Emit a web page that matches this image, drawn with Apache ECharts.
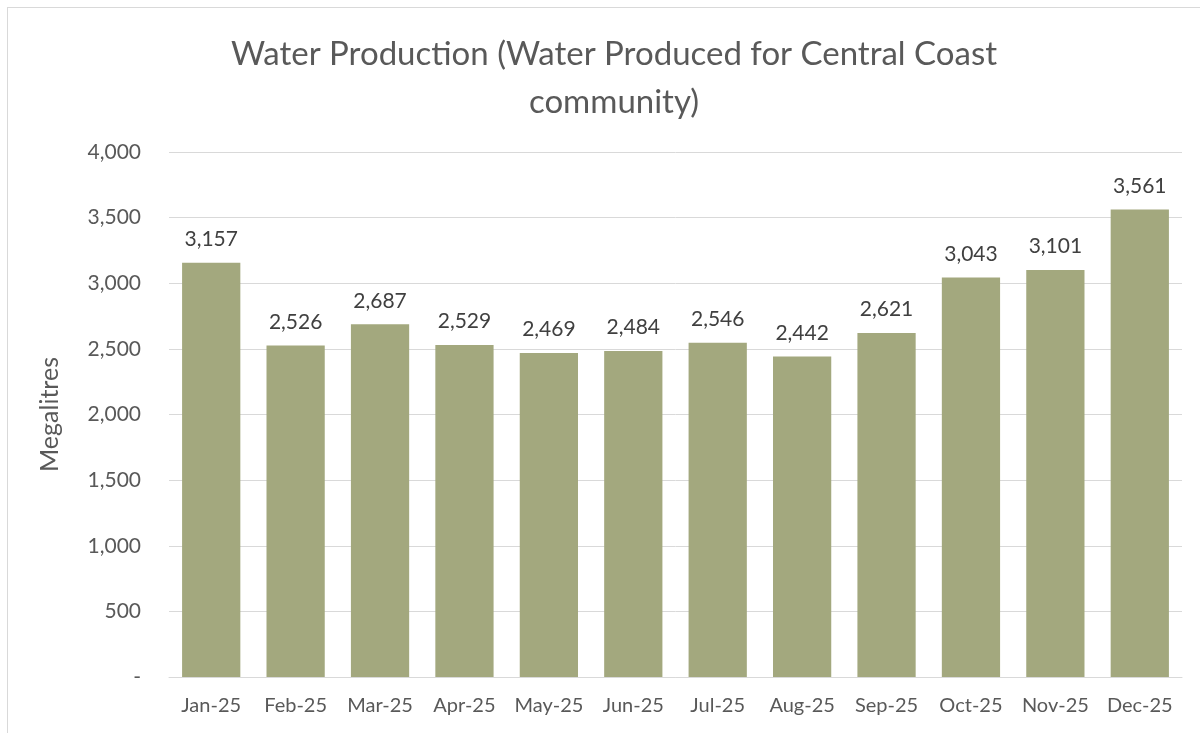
<!DOCTYPE html>
<html><head><meta charset="utf-8">
<script src="https://cdn.jsdelivr.net/npm/echarts@6/dist/echarts.min.js"></script>
<style>
html,body{margin:0;padding:0;background:#fff;}
#frame{position:absolute;left:7px;top:7px;width:1300px;height:800px;border-left:1px solid #d9d9d9;border-top:1px solid #d9d9d9;}
#c{position:absolute;left:0;top:0;width:1200px;height:733px;}
</style></head>
<body>
<div id="frame"></div>
<div id="c"></div>
<script>
const categories = ["Jan-25","Feb-25","Mar-25","Apr-25","May-25","Jun-25","Jul-25","Aug-25","Sep-25","Oct-25","Nov-25","Dec-25"];
const production = [3157,2526,2687,2529,2469,2484,2546,2442,2621,3043,3101,3561];
const yTicks = {min:0, max:4000, interval:500};
const titleLines = ["Water Production (Water Produced for Central Coast","community)"];
const yName = "Megalitres";

const fmt = v => v === 0 ? "-" : v.toLocaleString("en-US");
const font = "Lato, 'Open Sans', sans-serif";
const chart = echarts.init(document.getElementById('c'), null, {renderer:'canvas'});
chart.setOption({
  animation:false,
  backgroundColor:'transparent',
  title:{
    text: titleLines.join("\n"),
    left: 609, top: 25, textAlign:'center',
    textStyle:{fontFamily:font, fontSize:33, fontWeight:'normal', color:'#595959', lineHeight:48}
  },
  grid:{left:169, right:18, top:152, bottom:56, containLabel:false},
  xAxis:{
    type:'category', data:categories,
    axisLine:{show:true, lineStyle:{color:'#d9d9d9', width:1}},
    axisTick:{show:false},
    axisLabel:{interval:0, fontFamily:font, fontSize:20, color:'#595959', margin:19}
  },
  yAxis:{
    type:'value', min:yTicks.min, max:yTicks.max, interval:yTicks.interval,
    name:yName, nameLocation:'middle', nameGap:107, nameRotate:90,
    nameTextStyle:{fontFamily:font, fontSize:25, color:'#595959', padding:[0,0,0,0]},
    axisLine:{show:false}, axisTick:{show:false},
    axisLabel:{fontFamily:font, fontSize:21, color:'#595959', margin:28, formatter:fmt},
    splitLine:{lineStyle:{color:'#d9d9d9', width:1}}
  },
  series:[{
    type:'bar', data:production, barCategoryGap:'31%',
    itemStyle:{color:'#A3A87E'},
    label:{show:true, position:'top', distance:13, fontFamily:font, fontSize:21, color:'#404040', formatter:p=>fmt(p.value)}
  }]
});
</script>
</body></html>
